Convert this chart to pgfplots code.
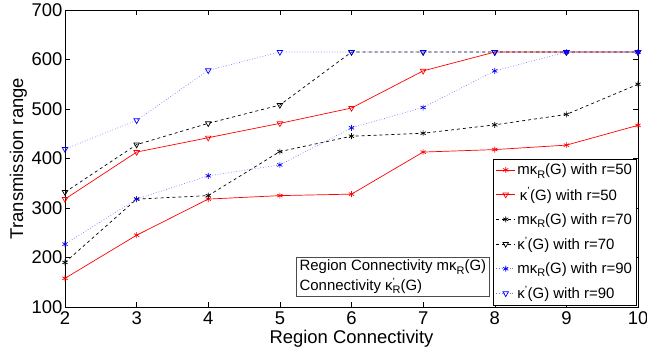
\documentclass[border=0pt]{standalone}
\usepackage{fontspec}
\setmainfont{Liberation Sans}
\usepackage{pgfplots}
\pgfplotsset{compat=1.18}
\newcommand{\kap}{κ}
\newcommand{\subR}{\raisebox{-0.45ex}{\fontsize{11}{11}\selectfont R}}
\newcommand{\mk}{m\kap\subR(G)}
\newcommand{\kp}{\kap\textsuperscript{'}(G)}
\begin{document}
\begin{tikzpicture}
\begin{axis}[name=ax, scale only axis, width=573bp, height=297bp,
  xmin=2, xmax=10, ymin=100, ymax=700,
  xtick={2,...,10}, ytick={100,200,...,700},
  tick align=inside, major tick length=5bp, minor tick num=0,
  axis line style={black, line width=0.7pt},
  tick style={black, line width=0.5pt},
  xlabel={Region Connectivity}, ylabel={Transmission range},
  label style={font=\fontsize{18.5}{20}\selectfont},
  tick label style={font=\fontsize{18.5}{20}\selectfont},
  /pgf/number format/assume math mode=true,
  xticklabel style={yshift=-1bp},
  yticklabel style={xshift=1bp},
  xlabel style={yshift=1bp},
  ylabel style={yshift=-2bp},
  every axis plot/.append style={line width=0.7pt},
  legend cell align=left,
  legend style={at={(rel axis cs:0.998,0.006)}, anchor=south east,
    font=\fontsize{15}{17}\selectfont, draw=black, line width=0.7pt,
    row sep=7.6bp, inner sep=2.5bp},
  legend image code/.code={\draw[mark repeat=2,mark phase=2] plot coordinates {(0cm,0cm) (0.33cm,0cm) (0.66cm,0cm)};},
  legend image post style={line width=0.7pt},
]
\addplot[red, solid, mark=asterisk, mark size=3bp, mark options={solid}] coordinates {(2,158) (3,245) (4,318) (5,325) (6,328) (7,413) (8,418) (9,427) (10,467)};
\addlegendentry{\mk\ with r=50}
\addplot[red, solid, mark=triangle, mark size=3.2bp, mark options={solid, rotate=180}] coordinates {(2,318) (3,413) (4,442) (5,471) (6,502) (7,577) (8,615) (9,615) (10,615)};
\addlegendentry{\,\kp\ with r=50}
\addplot[black, dashed, mark=asterisk, mark size=3bp, mark options={solid}] coordinates {(2,190) (3,318) (4,325) (5,414) (6,445) (7,451) (8,468) (9,489) (10,550)};
\addlegendentry{\mk\ with r=70}
\addplot[black, dashed, mark=triangle, mark size=3.2bp, mark options={solid, rotate=180}] coordinates {(2,332) (3,428) (4,471) (5,508) (6,615) (7,615) (8,615) (9,615) (10,615)};
\addlegendentry{\kp\ with r=70}
\addplot[blue!55, dotted, mark=asterisk, mark size=3bp, mark options={solid, blue}] coordinates {(2,227) (3,318) (4,365) (5,387) (6,462) (7,503) (8,577) (9,615) (10,615)};
\addlegendentry{\mk\ with r=90}
\addplot[blue!55, dotted, mark=triangle, mark size=3.2bp, mark options={solid, blue, rotate=180}] coordinates {(2,419) (3,477) (4,578) (5,615) (6,615) (7,615) (8,615) (9,615) (10,615)};
\addlegendentry{\kp\ with r=90}
\node[draw=black!70, line width=0.6pt, anchor=south west, align=left, inner sep=3bp,
  font=\fontsize{15}{19.5}\selectfont] at (axis cs:5.23,120)
  {Region Connectivity m\kap\subR(G)\\Connectivity \kap\rlap{\textsuperscript{'}}\subR(G)};
\end{axis}
\pgfresetboundingbox
\path ([shift={(-65bp,-47bp)}]ax.south west) rectangle ([shift={(9bp,10bp)}]ax.north east);
\end{tikzpicture}
\end{document}
